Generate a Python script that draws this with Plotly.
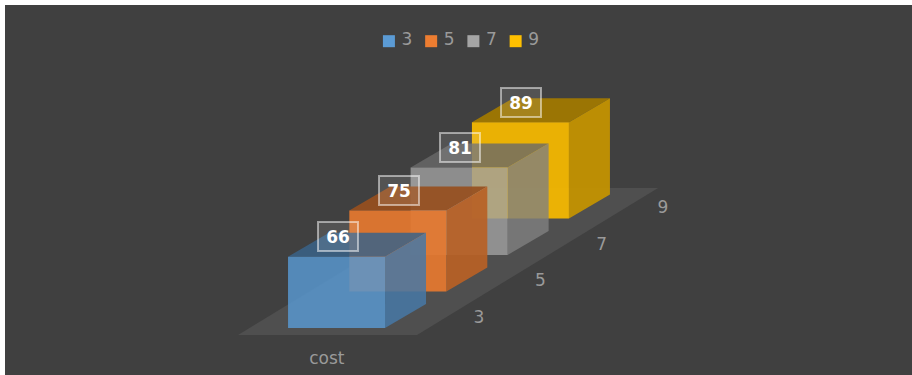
import plotly.graph_objects as go

# --- data ---
categories = ["3", "5", "7", "9"]
values = [66, 75, 81, 89]
group_label = ["cost"]
base_colors = [(91, 155, 213), (237, 125, 49), (165, 165, 165), (255, 192, 0)]
alphas = [0.85, 0.93, 0.8, 0.93]

# --- oblique layout in axis units (x: bar widths, y: value units) ---
BAR_W = 1.0
STEP_X, STEP_Y = 0.632, 33.8      # shift between successive categories
DEPTH_X, DEPTH_Y = 0.4227, 22.2   # depth of one box


def rgba(c, f, a):
    return f"rgba({int(c[0]*f)},{int(c[1]*f)},{int(c[2]*f)},{a})"


fig = go.Figure()


def poly(xs, ys, color):
    fig.add_trace(go.Scatter(x=xs + xs[:1], y=ys + ys[:1], mode="lines", fill="toself",
                             fillcolor=color, line=dict(width=0), hoverinfo="skip",
                             showlegend=False))


# floor
fx0, fx1, fy = -0.515, 1.33, -6.5
fdx, fdy = 2.485, 136.1
poly([fx0, fx1, fx1 + fdx, fx0 + fdx], [fy, fy, fy + fdy, fy + fdy], "#4f4f4f")

# boxes, back to front
for i in reversed(range(len(values))):
    v, c, a = values[i], base_colors[i], alphas[i]
    x0 = i * STEP_X
    x1 = x0 + BAR_W
    y0 = i * STEP_Y
    y1 = y0 + v
    poly([x0, x0 + DEPTH_X, x1 + DEPTH_X, x1],
         [y1, y1 + DEPTH_Y, y1 + DEPTH_Y, y1], rgba(c, 0.64, a))      # top
    poly([x1, x1 + DEPTH_X, x1 + DEPTH_X, x1],
         [y0, y0 + DEPTH_Y, y1 + DEPTH_Y, y1], rgba(c, 0.78, a))      # side
    poly([x0, x1, x1, x0], [y0, y0, y1, y1], rgba(c, 0.97, a))        # front

# depth-axis labels
fig.add_trace(go.Scatter(
    x=[1.969 + i * STEP_X for i in range(len(categories))],
    y=[8.8 + i * STEP_Y for i in range(len(categories))],
    text=categories, mode="text", textfont=dict(size=17, color="#9a9a9a", family="DejaVu Sans"),
    hoverinfo="skip", showlegend=False))

# legend drawn with one marker + one label per series (tighter than the native legend allows)
LEG_X0, LEG_STEP, LEG_Y, LEG_TEXT_DX = 1.04, 0.4355, 265.5, 0.185
for i, (name, c) in enumerate(zip(categories, base_colors)):
    fig.add_trace(go.Scatter(x=[LEG_X0 + i * LEG_STEP], y=[LEG_Y], mode="markers", name=name,
                             marker=dict(symbol="square", size=12, color=rgba(c, 1, 1)),
                             hoverinfo="skip", showlegend=False))
    fig.add_trace(go.Scatter(x=[LEG_X0 + i * LEG_STEP + LEG_TEXT_DX], y=[LEG_Y], mode="text",
                             text=[name], textfont=dict(size=17, color="#9a9a9a", family="DejaVu Sans"),
                             hoverinfo="skip", showlegend=False))

# data labels
for i, v in enumerate(values):
    fig.add_annotation(x=i * STEP_X + BAR_W / 2 + 0.01, y=i * STEP_Y + v + 18.5, xref="x", yref="y",
                       text=f"<b>{v}</b>", showarrow=False, width=36, height=25,
                       font=dict(size=17, color="#ffffff", family="DejaVu Sans"),
                       bgcolor="rgba(255,255,255,0.1)", bordercolor="rgba(255,255,255,0.5)",
                       borderwidth=2, borderpad=1)

fig.update_layout(
    width=912, height=375,
    margin=dict(l=5, r=0, t=5, b=0, autoexpand=False),
    paper_bgcolor="#ffffff", plot_bgcolor="#404040",
    font=dict(family="DejaVu Sans", color="#9a9a9a", size=16),
    showlegend=False,
    xaxis=dict(range=[-2.918, 6.433], showgrid=False, zeroline=False, showline=False,
               tickvals=[0.4], ticktext=group_label, ticks="inside", ticklen=8,
               tickcolor="rgba(0,0,0,0)", ticklabelposition="inside",
               tickfont=dict(size=17, color="#9a9a9a")),
    yaxis=dict(range=[-43.5, 299], showgrid=False, zeroline=False, showline=False,
               showticklabels=False, ticks=""),
)
fig.write_html("out.html", config={"displayModeBar": False},
               post_script="document.body.style.margin='0';")
